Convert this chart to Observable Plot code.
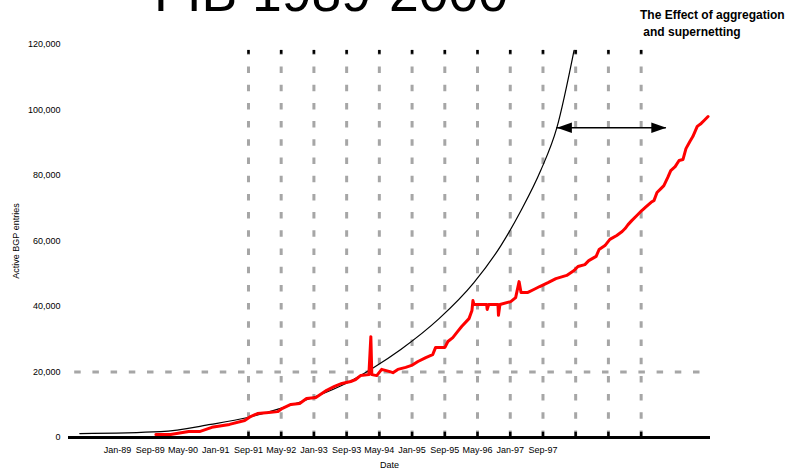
<!DOCTYPE html>
<html>
<head>
<meta charset="utf-8">
<script src="https://cdn.jsdelivr.net/npm/d3@7"></script>
<script src="https://cdn.jsdelivr.net/npm/@observablehq/plot@0.6"></script>
<style>
  html, body { margin: 0; padding: 0; background: white; overflow: hidden; }
  #wrap { position: relative; width: 788px; height: 471px; font-family: "Liberation Sans", Arial, sans-serif; }
  #title { position: absolute; left: 154px; top: -34px; font-size: 53.5px; line-height: 53.5px; white-space: nowrap; color: #000; }
  .note { position: absolute; font-size: 12px; font-weight: bold; white-space: pre; color: #000; line-height: 12px; }
  #chart { position: absolute; left: 0; top: 0; }
</style>
</head>
<body>
<div id="wrap">
  <div id="chart"></div>
  <div id="title">FIB 1989-2000</div>
  <div class="note" style="left:640px; top:9px;">The Effect of aggregation</div>
  <div class="note" style="left:640px; top:26px;"> and supernetting</div>
</div>
<script>
// ---- data (decimal year, table entries) ----
const fibYears = [1989.78,1990.08,1990.45,1990.67,1990.92,1991.28,1991.59,1991.71,1991.85,1992.08,1992.26,1992.36,1992.53,1992.71,1992.85,1993.04,1993.26,1993.42,1993.57,1993.75,1993.85,1993.95,1994.12,1994.16,1994.18,1994.28,1994.38,1994.53,1994.61,1994.71,1994.87,1994.99,1995.12,1995.28,1995.42,1995.48,1995.67,1995.73,1995.83,1995.93,1996.01,1996.16,1996.22,1996.24,1996.26,1996.52,1996.53,1996.56,1996.75,1996.76,1996.79,1997.01,1997.11,1997.18,1997.22,1997.36,1997.48,1997.60,1997.77,1997.93,1998.15,1998.30,1998.38,1998.52,1998.60,1998.75,1998.81,1998.93,1999.03,1999.17,1999.28,1999.34,1999.40,1999.48,1999.58,1999.68,1999.77,1999.87,1999.93,1999.99,2000.07,2000.13,2000.21,2000.27,2000.36,2000.44,2000.52,2000.58,2000.66,2000.72,2000.81,2000.89,2000.95,2001.03];
const fibEntries = [900,900,1800,1800,3100,4000,5200,6400,7300,7600,7900,8900,10100,10400,11900,12200,14400,15600,16500,17100,17700,18900,19200,30800,19200,18900,20800,20200,19800,20800,21400,22000,23200,24400,25300,27500,27500,29300,30500,32400,33900,36300,38800,41800,40600,40600,39100,40600,40600,37300,40600,41500,42700,47600,44300,44300,45200,46100,47300,48500,49500,51000,52200,52800,54000,55300,57400,58600,60500,61700,62900,63800,65000,66300,67800,69300,70500,71800,72400,74800,76000,76900,79400,81500,82700,84600,84900,88200,90400,91900,95000,95900,96800,98000];

const projYears = [1988.23,1989.88,1990.90,1991.65,1992.32,1992.98,1993.69,1994.22,1994.77,1995.55,1996.26,1996.81,1997.22,1997.62,1997.95,1998.30];
const projEntries = [1200,1800,4000,6100,8900,12200,16800,21400,26900,36300,47300,58600,69300,81500,94600,118200];

const xTickLabels = ["Jan-89","Sep-89","May-90","Jan-91","Sep-91","May-92","Jan-93","Sep-93","May-94","Jan-95","Sep-95","May-96","Jan-97","Sep-97"];
const xTickValues = xTickLabels.map((_, i) => 1989 + i * 8 / 12);
const gridYears = [1991.667,1992.333,1993.000,1993.667,1994.333,1995.000,1995.667,1996.333,1997.000,1997.667,1998.333,1999.000,1999.667];
const yTicks = [0,20000,40000,60000,80000,100000,120000];
const refLevel = [20000];
const arrowSpan = [{from: 1997.95, to: 2000.18, level: 94600}];

const fib = fibYears.map((x, i) => ({x, y: fibEntries[i]}));
const projection = projYears.map((x, i) => ({x, y: projEntries[i]}));
const labelMap = new Map(xTickValues.map((v, i) => [v, xTickLabels[i]]));

// filled arrowhead glyph: tip at origin, pointing up
const arrowHead = {
  draw(ctx) {
    ctx.moveTo(0, 0);
    ctx.lineTo(-5.3, 15);
    ctx.lineTo(5.3, 15);
    ctx.closePath();
  }
};

const chart = Plot.plot({
  width: 788,
  height: 471,
  marginLeft: 68,
  marginRight: 78,
  marginTop: 44,
  marginBottom: 34,
  style: {fontFamily: "'Liberation Sans', Arial, sans-serif", background: "white", color: "black"},
  x: {domain: [1988, 2001.08]},
  y: {domain: [0, 120000]},
  marks: [
    Plot.ruleX(gridYears, {x: d => d, y1: 0, y2: 118200, stroke: "#a6a6a6", strokeWidth: 3, strokeDasharray: "6.5,11.7"}),
    Plot.ruleY(refLevel, {y: d => d, stroke: "#a6a6a6", strokeWidth: 3, strokeDasharray: "6.5,11.7", strokeDashoffset: 12}),
    Plot.ruleX(gridYears, {x: d => d, y1: 0, y2: 1600, stroke: "black", strokeWidth: 2.5}),
    Plot.ruleX(gridYears, {x: d => d, y1: 117000, y2: 118200, stroke: "black", strokeWidth: 2.5}),
    Plot.line(projection, {x: "x", y: "y", stroke: "black", strokeWidth: 1.2, curve: "monotone-x"}),
    Plot.line(fib, {x: "x", y: "y", stroke: "#ff0000", strokeWidth: 3}),
    Plot.ruleY([0], {stroke: "black", strokeWidth: 3}),
    Plot.ruleY(arrowSpan, {y: "level", x1: "from", x2: "to", stroke: "black", strokeWidth: 1.5}),
    Plot.dot(arrowSpan, {x: "from", y: "level", symbol: arrowHead, rotate: -90, fill: "black", stroke: "none", r: 5}),
    Plot.dot(arrowSpan, {x: "to", y: "level", symbol: arrowHead, rotate: 90, fill: "black", stroke: "none", r: 5}),
    Plot.axisX({ticks: xTickValues, tickFormat: d => labelMap.get(d), tickSize: 0, tickPadding: 9, fontSize: 9,
      label: "Date", labelAnchor: "center", labelArrow: "none", labelOffset: 30}),
    Plot.axisY({ticks: yTicks, tickSize: 0, tickPadding: 8, fontSize: 9,
      label: "Active BGP entries", labelAnchor: "center", labelArrow: "none", labelOffset: 56})
  ]
});
document.getElementById("chart").appendChild(chart);
</script>
</body>
</html>
